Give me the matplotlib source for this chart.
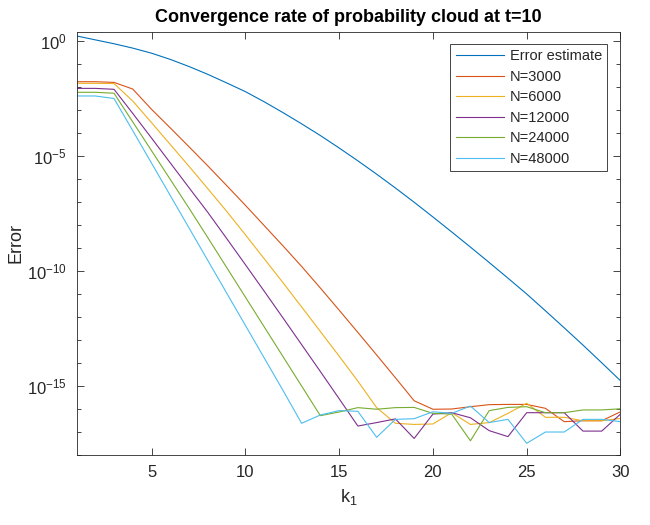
import numpy as np
import matplotlib
matplotlib.use("Agg")
import matplotlib.pyplot as plt
from matplotlib.ticker import FixedLocator, LogFormatterSciNotation, NullFormatter

plt.rcParams['font.family'] = ['Liberation Sans', 'DejaVu Sans']
plt.rcParams['mathtext.fontset'] = 'custom'
plt.rcParams['mathtext.rm'] = 'Liberation Sans'
plt.rcParams['mathtext.it'] = 'Liberation Sans:italic'

# k_1 values
k = np.arange(1, 31)

# log10 of the error
est_log = [0.22, 0.05, -0.12, -0.31, -0.53, -0.80, -1.11, -1.45, -1.82, -2.20,
           -2.64, -3.11, -3.60, -4.11, -4.65, -5.21, -5.79, -6.39, -7.01, -7.65,
           -8.30, -8.96, -9.63, -10.31, -11.00, -11.73, -12.47, -13.22, -13.99, -14.77]

n3000_log = [-1.77, -1.77, -1.80, -2.09, -2.97, -3.78, -4.60, -5.43, -6.28, -7.14,
             -8.02, -8.90, -9.80, -10.74, -11.70, -12.67, -13.65, -14.64, -15.64, -16.01,
             -16.00, -15.90, -15.81, -15.80, -15.80, -15.97, -16.55, -16.51, -16.51, -16.12]

n6000_log = [-1.84, -1.84, -1.85, -2.61, -3.55, -4.50, -5.45, -6.42, -7.40, -8.42,
             -9.46, -10.50, -11.56, -12.63, -13.70, -14.79, -15.94, -16.62, -16.67, -16.65,
             -16.16, -16.67, -16.59, -16.19, -15.75, -16.36, -16.36, -16.51, -16.51, -16.41]

n12000_log = [-2.06, -2.06, -2.10, -3.15, -4.22, -5.30, -6.38, -7.45, -8.58, -9.72,
              -10.87, -12.03, -13.20, -14.37, -15.55, -16.74, -16.59, -16.43, -17.28, -16.22,
              -16.16, -16.38, -16.94, -17.20, -16.16, -16.16, -16.16, -16.96, -16.96, -16.22]

n24000_log = [-2.23, -2.23, -2.27, -3.52, -4.77, -6.02, -7.27, -8.55, -9.84, -11.13,
              -12.42, -13.71, -15.00, -16.29, -16.13, -15.94, -16.01, -15.94, -15.93, -16.19,
              -16.22, -17.38, -16.07, -15.93, -15.90, -16.16, -16.16, -16.04, -16.04, -15.99]

n48000_log = [-2.39, -2.39, -2.50, -3.90, -5.31, -6.72, -8.13, -9.54, -10.95, -12.36,
              -13.77, -15.18, -16.62, -16.26, -16.07, -16.10, -17.23, -16.45, -16.42, -16.12,
              -16.19, -15.87, -16.59, -16.45, -17.49, -17.00, -17.00, -16.45, -16.45, -16.55]

labels = ['Error estimate', 'N=3000', 'N=6000', 'N=12000', 'N=24000', 'N=48000']
colors = ['#0072BD', '#D95319', '#EDB120', '#7E2F8E', '#77AC30', '#4DBEEE']
series = [est_log, n3000_log, n6000_log, n12000_log, n24000_log, n48000_log]

fig = plt.figure(figsize=(6.5, 5.25), dpi=100)
ax = fig.add_axes([0.1177, 0.1333, 0.8369, 0.8063])

for s, c, lab in zip(series, colors, labels):
    ax.semilogy(k, 10.0 ** np.array(s), color=c, lw=0.8, label=lab)

ax.set_xlim(1, 30)
ax.set_ylim(1e-18, 10 ** 0.404)
ax.set_xticks([5, 10, 15, 20, 25, 30])
ax.yaxis.set_major_locator(FixedLocator([1e-15, 1e-10, 1e-5, 1e0]))
ax.yaxis.set_major_formatter(LogFormatterSciNotation())
ax.yaxis.set_minor_locator(FixedLocator([10.0 ** e for e in range(-18, 1)]))
ax.yaxis.set_minor_formatter(NullFormatter())

axcol = '#262626'
ax.tick_params(which='both', direction='in', top=True, right=True,
               colors=axcol, labelsize=12, width=0.6, pad=7)
ax.tick_params(which='major', length=5)
ax.tick_params(which='minor', length=3)
for sp in ax.spines.values():
    sp.set_color(axcol)
    sp.set_linewidth(0.6)

ax.set_title('Convergence rate of probability cloud at t=10', fontsize=13,
             fontweight='bold', color='black', pad=7)
ax.set_xlabel(r'k$_\mathdefault{1}$', fontsize=13, color=axcol, labelpad=5)
ax.set_ylabel('Error', fontsize=13, color=axcol, labelpad=2)

leg = ax.legend(loc='upper right', bbox_to_anchor=(0.975, 0.971), borderaxespad=0,
                fancybox=False, framealpha=1, edgecolor=axcol, fontsize=10.5,
                handlelength=3.3, handletextpad=0.4, labelspacing=0.45,
                borderpad=0.35)
leg.get_frame().set_linewidth(0.6)
for t in leg.get_texts():
    t.set_color(axcol)

fig.savefig('out.png', dpi=100)
